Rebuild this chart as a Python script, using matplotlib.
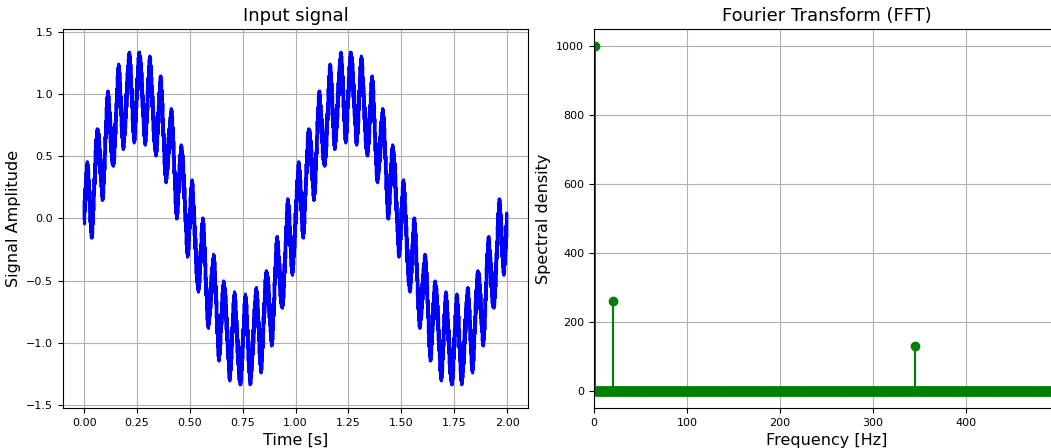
import numpy as np
import matplotlib
matplotlib.use("Agg")
import matplotlib.pyplot as plt

# --- data: signal components ---
sample_rate = 1000          # samples per second
duration = 2.0              # seconds
component_freqs = [1, 20, 345]          # Hz
component_amps = [1.0, 0.26, 0.13]      # amplitude

t = np.arange(0, duration, 1.0 / sample_rate)
signal = np.zeros_like(t)
for f, a in zip(component_freqs, component_amps):
    signal += a * np.sin(2 * np.pi * f * t)

N = len(t)
spectrum = np.abs(np.fft.fft(signal))[: N // 2]
freqs = np.fft.fftfreq(N, 1.0 / sample_rate)[: N // 2]

fig = plt.figure(figsize=(10.51, 4.48), dpi=100)
W, H = 1051, 448
ax1 = fig.add_axes([63 / W, 1 - 408 / H, (528 - 63) / W, (408 - 29) / H])
ax2 = fig.add_axes([594 / W, 1 - 408 / H, (1059 - 594) / W, (408 - 29) / H])

ax1.plot(t, signal, color="blue", linewidth=2.2)
ax1.set_ylim(-1.525, 1.525)
ax1.set_title("Input signal", fontsize=13)
ax1.set_xlabel("Time [s]", fontsize=11.5)
ax1.set_ylabel("Signal Amplitude", fontsize=11.5)
ax1.grid(True)
ax1.tick_params(labelsize=8)

ml, sl, bl = ax2.stem(freqs, spectrum, linefmt="g-", markerfmt="go", basefmt="g-")
ax2.set_xlim(0, 500)
ax2.set_xticks([0, 100, 200, 300, 400])
ax2.set_title("Fourier Transform (FFT)", fontsize=13)
ax2.set_xlabel("Frequency [Hz]", fontsize=11.5)
ax2.set_ylabel("Spectral density", fontsize=11.5)
ax2.grid(True)
ax2.tick_params(labelsize=8)

fig.savefig("out.png", dpi=100)
